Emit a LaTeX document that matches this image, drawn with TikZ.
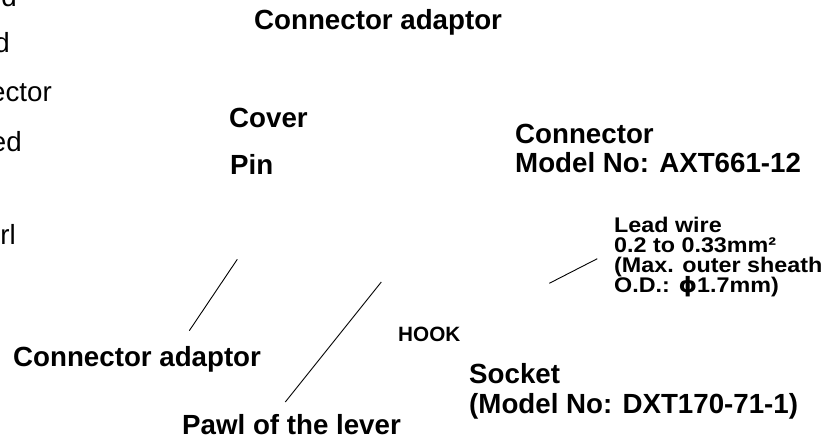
\documentclass[tikz,border=0pt]{standalone}
\usepackage{fontspec}
\setmainfont{Liberation Sans}
\newfontfamily\widebold{Liberation Sans}[FakeStretch=1.1, UprightFont=* Bold]
\newfontfamily\widephi{DejaVu Sans}[FakeStretch=1.1, UprightFont=* Bold]
\begin{document}
\begin{tikzpicture}[x=1pt,y=-1pt,
  big/.style={inner sep=0pt, anchor=base west, font=\bfseries\fontsize{27.7}{30}\selectfont},
  small/.style={inner sep=0pt, anchor=base west, font=\widebold\fontsize{21.2}{20}\selectfont},
  hook/.style={inner sep=0pt, anchor=base west, font=\bfseries\fontsize{20.7}{22}\selectfont},
  frag/.style={inner sep=0pt, anchor=base east, font=\fontsize{27.7}{30}\selectfont},
  leader/.style={line width=0.9pt, black}]
\useasboundingbox (0,0) rectangle (840,441);
% cut-off fragments at left edge
\node[frag] (f1) at (17,7) {d};
\node[frag] (f2) at (10,53) {d};
\node[frag] (f3) at (52,102) {ector};
\node[frag] (f4) at (22,151) {ed};
\node[frag] (f5) at (16,244) {rl};
% labels
\node[big] (cadtop) at (254,29.5) {Connector adaptor};
\node[big] (cover) at (229,128) {Cover};
\node[big] (pin) at (230,174) {Pin};
\node[big] (conn1) at (515,143) {Connector};
\node[big] (conn2) at (515,172.5) {Model No: AXT661-12};
\node[small] (lw1) at (614,232) {Lead wire};
\node[small] (lw2) at (614,252) {0.2 to 0.33mm²};
\node[small] (lw3) at (614,272) {(Max. outer sheath};
\node[small] (lw4) at (614,292) {O.D.: {\widephi ϕ}1.7mm)};
\node[hook] (hookl) at (398,341) {HOOK};
\node[big] (cadbot) at (13,366) {Connector adaptor};
\node[big] (sock1) at (469,383.6) {Socket};
\node[big] (sock2) at (469,413) {(Model No: DXT170-71-1)};
\node[big] (pawl) at (182,434.3) {Pawl of the lever};
% leader lines
\coordinate (a1) at (237.3,259.3);
\coordinate (a2) at (189.3,330.7);
\coordinate (b1) at (381.3,282);
\coordinate (b2) at (285.3,402);
\coordinate (c1) at (597.3,258.7);
\coordinate (c2) at (549.3,283.3);
\draw[leader] (a1) -- (a2);
\draw[leader] (b1) -- (b2);
\draw[leader] (c1) -- (c2);
\end{tikzpicture}
\end{document}
